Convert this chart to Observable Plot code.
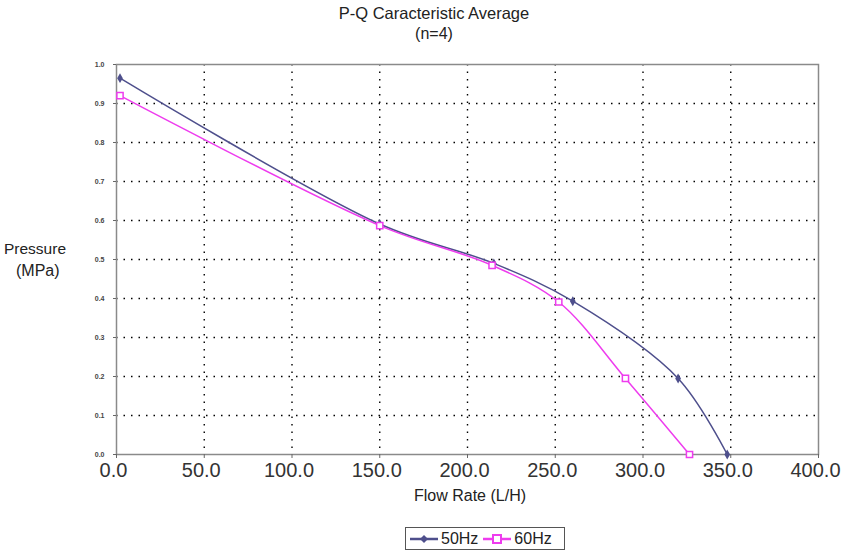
<!DOCTYPE html>
<html><head><meta charset="utf-8">
<script src="https://cdn.jsdelivr.net/npm/d3@7"></script>
<script src="https://cdn.jsdelivr.net/npm/@observablehq/plot@0.6"></script>
<style>
body{margin:0;background:#fff;font-family:"Liberation Sans",Arial,sans-serif;}
#wrap{position:relative;width:868px;height:556px;overflow:hidden;}
.t{position:absolute;color:#222;white-space:nowrap;}
</style></head><body>
<div id="wrap">
<div id="chart" style="position:absolute;left:0;top:0"></div>
<div class="t" style="left:0;width:868px;top:4px;text-align:center;font-size:16.5px">P-Q Caracteristic Average</div>
<div class="t" style="left:0;width:868px;top:25px;text-align:center;font-size:16px">(n=4)</div>
<div class="t" style="left:4px;top:240px;font-size:15.5px">Pressure</div>
<div class="t" style="left:16px;top:262px;font-size:16px">(MPa)</div>
<div class="t" style="left:0;width:940px;top:487px;text-align:center;font-size:16px">Flow Rate (L/H)</div>
<div id="legend" style="position:absolute;left:405px;top:527px;width:160px;height:23px;border:1px solid #555;box-sizing:border-box;font-size:16px;color:#222;display:flex;align-items:center;padding-left:3px;gap:1px;"></div>
</div>
<script>
const flow50 = [2, 150, 215, 260, 320, 348];
const press50 = [0.965, 0.591, 0.49, 0.393, 0.195, 0.0];
const flow60 = [2, 150, 214, 252, 290, 326.5];
const press60 = [0.92, 0.587, 0.485, 0.391, 0.195, 0.0];
const series = ["50Hz", "60Hz"];
const colors = ["#4e4f8c", "#ee3cee"];
const xTicks = [0, 50, 100, 150, 200, 250, 300, 350, 400];
const yTicks = [0, 0.1, 0.2, 0.3, 0.4, 0.5, 0.6, 0.7, 0.8, 0.9, 1.0];

const d50 = flow50.map((f, i) => ({flow: f, p: press50[i], s: series[0]}));
const d60 = flow60.map((f, i) => ({flow: f, p: press60[i], s: series[1]}));

const chart = Plot.plot({
  width: 868, height: 556,
  marginLeft: 116, marginRight: 50, marginTop: 64, marginBottom: 102,
  style: {fontFamily: "'Liberation Sans', Arial, sans-serif", background: "white"},
  x: {domain: [0, 400]},
  y: {domain: [0, 1]},
  marks: [
    Plot.gridX(xTicks.slice(1, -1), {stroke: "#000", strokeOpacity: 1, strokeWidth: 1.4, strokeDasharray: "1.5,6"}),
    Plot.gridY(yTicks.slice(1, -1), {stroke: "#000", strokeOpacity: 1, strokeWidth: 1.4, strokeDasharray: "1.5,6"}),
    Plot.frame({stroke: "#8a8a8a", strokeWidth: 1.5}),
    Plot.axisX({ticks: xTicks, tickSize: 4, text: null, label: null, stroke: "#666"}),
    Plot.axisX({ticks: xTicks, tickFormat: d => d.toFixed(1), fontSize: 20, tickSize: 0, tickPadding: 8, dx: -3, label: null, fill: "#333"}),
    Plot.axisY({ticks: yTicks, tickFormat: d => d.toFixed(1), fontSize: 7, fontWeight: "bold", tickSize: 3, tickPadding: 9, label: null, fill: "#444", stroke: "#666"}),
    Plot.line(d50, {x: "flow", y: "p", stroke: colors[0], strokeWidth: 1.5, curve: "catmull-rom"}),
    Plot.line(d60, {x: "flow", y: "p", stroke: colors[1], strokeWidth: 1.5, curve: "catmull-rom"}),
    Plot.dot(d50, {x: "flow", y: "p", symbol: "diamond", r: 3, fill: colors[0]}),
    Plot.dot(d60, {x: "flow", y: "p", symbol: "square", r: 3.5, fill: "white", stroke: colors[1], strokeWidth: 1.5})
  ]
});
document.getElementById("chart").appendChild(chart);

const leg = document.getElementById("legend");
series.forEach((s, i) => {
  const sym = i === 0
    ? `<path d="M15,6 L19,10 L15,14 L11,10 Z" fill="${colors[0]}"/>`
    : `<rect x="11" y="6" width="8" height="8" fill="white" stroke="${colors[1]}" stroke-width="2"/>`;
  leg.insertAdjacentHTML("beforeend",
    `<svg width="31" height="20"><line x1="1" x2="29" y1="10" y2="10" stroke="${colors[i]}" stroke-width="2.5"/>${sym}</svg><span style="margin-right:3px">${s}</span>`);
});
</script>
</body></html>
